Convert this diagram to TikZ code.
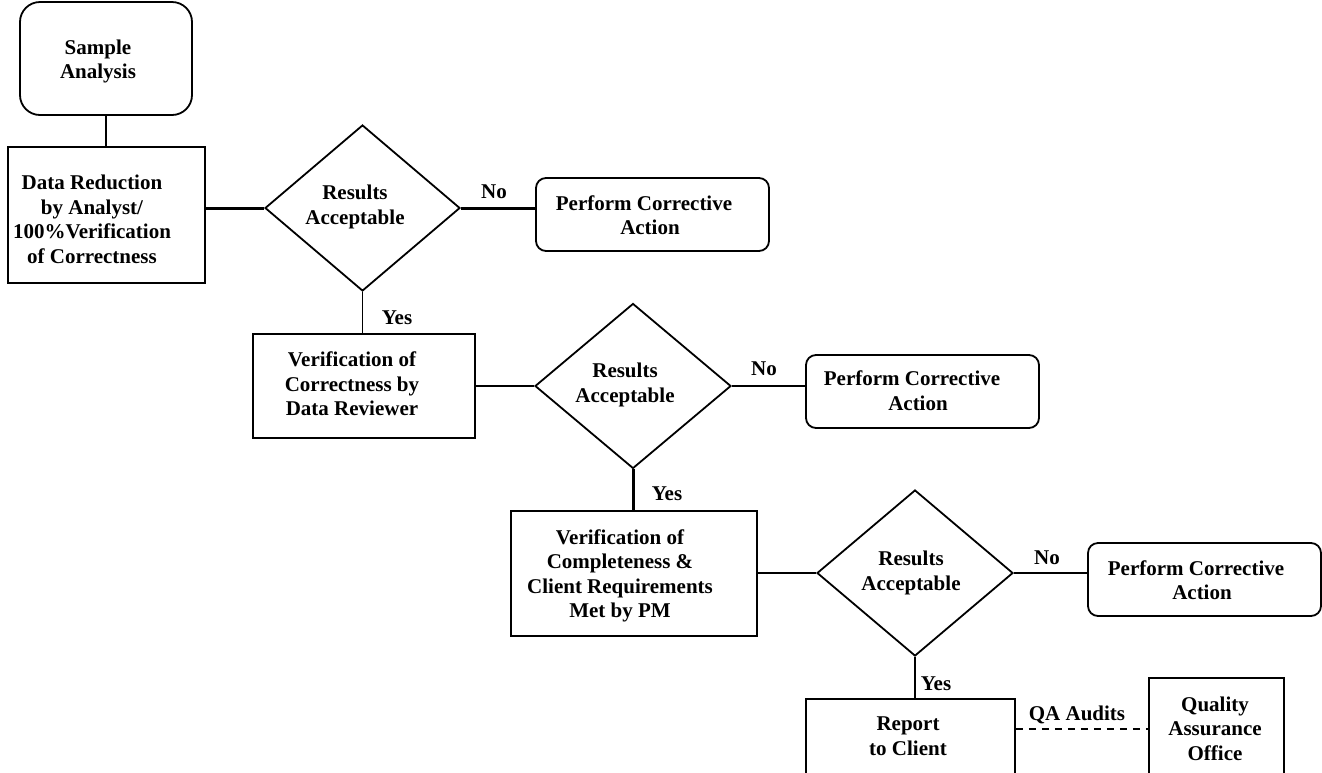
\documentclass[tikz,border=0pt]{standalone}
\usepackage{fontspec}
\setmainfont{Liberation Serif}
\usetikzlibrary{shapes.geometric}
\tikzset{
  txt/.style={font=\fontsize{21}{24.5}\selectfont\bfseries, align=center, inner sep=0pt},
  boxshape/.style={draw, line width=1.8pt, inner sep=0pt},
  rbox/.style={boxshape, rounded corners=10pt},
  decision/.style={draw, diamond, line width=1.8pt, inner sep=0pt},
  conn/.style={line width=1.8pt},
  thickconn/.style={line width=3pt},
  audit/.style={dashed, line width=1.1pt, dash pattern=on 7pt off 6pt}
}
\begin{document}
\begin{tikzpicture}[x=1pt,y=-1pt]
\clip (0,0) rectangle (1322,772);
\useasboundingbox (0,0) rectangle (1322,772);
\fill[white] (0,0) rectangle (1322,772);

% boxes
\node[boxshape, rounded corners=20pt, minimum width=172pt, minimum height=113pt] (sa) at (106,58.5) {};
\node[txt] (sat) at (98,61.5) {Sample\\Analysis};

\node[boxshape, minimum width=197pt, minimum height=136pt] (dr) at (106.5,215) {};
\node[txt] (drt) at (92,219.5) {Data Reduction\\by Analyst/\\100\%Verification\\of Correctness};

\node[decision, minimum width=195pt, minimum height=166pt] (d1) at (362.5,208) {};
\node[txt] (d1t) at (355,207) {Results\\Acceptable};

\node[rbox, minimum width=233pt, minimum height=73pt] (pc1) at (652.5,214.5) {};
\node[txt] (pc1t) at (644,215) {Perform Corrective\\\hspace*{12pt}Action};

\node[boxshape, minimum width=222pt, minimum height=104pt] (b2) at (364,386) {};
\node[txt] (b2t) at (352,384) {Verification of\\Correctness by\\Data Reviewer};

\node[decision, minimum width=196pt, minimum height=165pt] (d2) at (633,386) {};
\node[txt] (d2t) at (625,385) {Results\\Acceptable};

\node[rbox, minimum width=233pt, minimum height=73pt] (pc2) at (922.5,391.5) {};
\node[txt] (pc2t) at (912,390.5) {Perform Corrective\\\hspace*{12pt}Action};

\node[boxshape, minimum width=246pt, minimum height=125pt] (b3) at (634,573.5) {};
\node[txt] (b3t) at (620,576) {Verification of\\Completeness \&\\Client Requirements\\Met by PM};

\node[decision, minimum width=196pt, minimum height=166pt] (d3) at (915,573) {};
\node[txt] (d3t) at (911,573) {Results\\Acceptable};

\node[rbox, minimum width=233pt, minimum height=73pt] (pc3) at (1204.5,579.5) {};
\node[txt] (pc3t) at (1196,580) {Perform Corrective\\\hspace*{12pt}Action};

\node[boxshape, minimum width=209pt, minimum height=111pt] (rep) at (910.5,754.5) {};
\node[txt] (rept) at (908,736) {Report\\to Client};

\node[boxshape, minimum width=135pt, minimum height=132pt] (qa) at (1216.5,744) {};
\node[txt] (qat) at (1215,728.5) {Quality\\Assurance\\Office};

% labels
\node[txt] (no1) at (494,192) {No};
\node[txt] (no2) at (764,369) {No};
\node[txt] (no3) at (1047,558) {No};
\node[txt] (yes1) at (397,318) {Yes};
\node[txt] (yes2) at (667,494) {Yes};
\node[txt] (yes3) at (936,684) {Yes};
\node[txt] (qal) at (1077,715) {QA Audits};

\coordinate (dl) at (0,729);

% connectors
\draw[conn] (sa.south) -- (sa.south |- dr.north);
\draw[thickconn] (d1.west -| dr.east) -- (d1.west);
\draw[thickconn] (d1.east) -- (pc1.west |- d1.east);
\draw[conn] (d1.south) -- (d1.south |- b2.north);
\draw[conn] (b2.east |- d2.west) -- (d2.west);
\draw[conn] (d2.east) -- (pc2.west |- d2.east);
\draw[thickconn] (d2.south) -- (d2.south |- b3.north);
\draw[conn] (b3.east |- d3.west) -- (d3.west);
\draw[conn] (d3.east) -- (pc3.west |- d3.east);
\draw[conn] (d3.south) -- (d3.south |- rep.north);
\draw[audit] (rep.east |- dl) -- (qa.west |- dl);
\end{tikzpicture}
\end{document}
